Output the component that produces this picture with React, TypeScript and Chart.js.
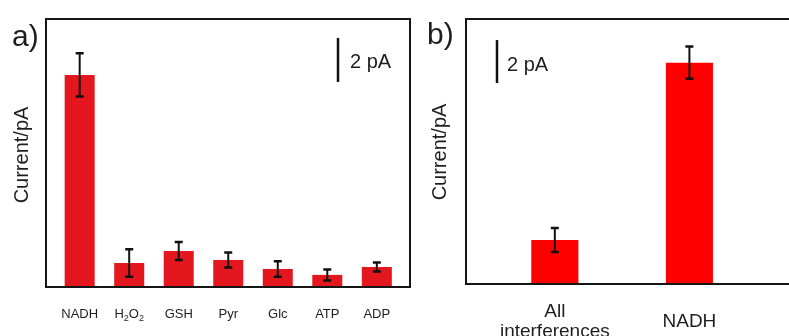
import React, { useEffect, useRef } from "react";
import { Chart, registerables } from "chart.js";
Chart.register(...registerables);

// ---- data ----
const catsA = ["NADH", "H2O2", "GSH", "Pyr", "Glc", "ATP", "ADP"];
const valsA = [9.64, 1.09, 1.64, 1.23, 0.82, 0.55, 0.91];
const errsA = [0.98, 0.62, 0.41, 0.34, 0.35, 0.25, 0.2];

const catsB = [["All", "interferences"], ["NADH"]];
const valsB = [2.05, 10.3];
const errsB = [0.56, 0.75];

const yTitle = "Current/pA";
const scaleBarLabel = "2 pA";
const scaleBarSize = 2;

const FONT = "'Liberation Sans', Arial, Helvetica, sans-serif";
const TXT = "#1e1e1e";

type PanelCfg = {
  label: string;
  labelX: number;
  labelBase: number;
  titleX: number;
  titleY: number;
  barX: number;
  barBase: number;
  textX: number;
  textBase: number;
  drawRight: boolean;
  tickFont: number;
  tickBase: number[];
  lineGap: number;
};

function drawSubLabel(ctx: CanvasRenderingContext2D, text: string, cx: number, base: number, size: number) {
  const parts: { t: string; sub: boolean }[] = [];
  for (const ch of text) {
    const sub = /[0-9]/.test(ch);
    const last = parts[parts.length - 1];
    if (last && last.sub === sub) last.t += ch;
    else parts.push({ t: ch, sub });
  }
  const subSize = Math.round(size * 0.68);
  let w = 0;
  for (const p of parts) {
    ctx.font = `${p.sub ? subSize : size}px ${FONT}`;
    w += ctx.measureText(p.t).width;
  }
  let x = cx - w / 2;
  ctx.textAlign = "left";
  for (const p of parts) {
    ctx.font = `${p.sub ? subSize : size}px ${FONT}`;
    ctx.fillText(p.t, x, p.sub ? base + 3 : base);
    x += ctx.measureText(p.t).width;
  }
}

function makePlugin(cfg: PanelCfg, errs: number[], cats: (string | string[])[]) {
  return {
    id: "panelDecor" + cfg.label,
    afterDatasetsDraw(chart: any) {
      const ctx: CanvasRenderingContext2D = chart.ctx;
      const { left, right, top, bottom } = chart.chartArea;
      const xs = chart.scales.x;
      const ys = chart.scales.y;
      const meta = chart.getDatasetMeta(0);
      const data = chart.data.datasets[0].data as { x: number; y: number }[];
      ctx.save();
      ctx.strokeStyle = "#111";
      meta.data.forEach((el: any, i: number) => {
        const v = data[i].y;
        const yHi = ys.getPixelForValue(v + errs[i]);
        const yLo = ys.getPixelForValue(v - errs[i]);
        const x = el.x;
        ctx.lineWidth = 2;
        ctx.beginPath();
        ctx.moveTo(x, yHi);
        ctx.lineTo(x, yLo);
        ctx.stroke();
        ctx.lineWidth = 2.5;
        ctx.beginPath();
        ctx.moveTo(x - 4, yHi);
        ctx.lineTo(x + 4, yHi);
        ctx.moveTo(x - 4, yLo);
        ctx.lineTo(x + 4, yLo);
        ctx.stroke();
      });
      ctx.strokeStyle = "#151515";
      ctx.lineWidth = 2;
      ctx.beginPath();
      if (cfg.drawRight) {
        ctx.rect(left, top, right - left, bottom - top);
      } else {
        ctx.moveTo(right + 2, top);
        ctx.lineTo(left, top);
        ctx.lineTo(left, bottom);
        ctx.lineTo(right + 2, bottom);
      }
      ctx.stroke();
      const sb0 = ys.getPixelForValue(cfg.barBase);
      const sb1 = ys.getPixelForValue(cfg.barBase + scaleBarSize);
      ctx.strokeStyle = "#111";
      ctx.lineWidth = 2.5;
      ctx.beginPath();
      ctx.moveTo(cfg.barX, sb0);
      ctx.lineTo(cfg.barX, sb1);
      ctx.stroke();
      ctx.fillStyle = TXT;
      ctx.font = `20px ${FONT}`;
      ctx.textAlign = "left";
      ctx.textBaseline = "alphabetic";
      ctx.fillText(scaleBarLabel, cfg.textX, cfg.textBase);
      ctx.font = `30px ${FONT}`;
      ctx.fillText(cfg.label, cfg.labelX, cfg.labelBase);
      ctx.save();
      ctx.translate(cfg.titleX, cfg.titleY);
      ctx.rotate(-Math.PI / 2);
      ctx.textAlign = "center";
      ctx.textBaseline = "middle";
      ctx.font = `20px ${FONT}`;
      ctx.fillText(yTitle, 0, 0);
      ctx.restore();
      ctx.textBaseline = "alphabetic";
      cats.forEach((c, i) => {
        const cx = xs.getPixelForValue(i);
        const lines = Array.isArray(c) ? c : [c];
        const base = cfg.tickBase[lines.length - 1];
        lines.forEach((ln, j) => {
          drawSubLabel(ctx, ln, cx, base + j * cfg.lineGap, cfg.tickFont);
        });
      });
      ctx.restore();
    },
  };
}

function buildChart(
  canvas: HTMLCanvasElement,
  vals: number[],
  errs: number[],
  cats: (string | string[])[],
  color: string,
  xMin: number,
  xMax: number,
  yMax: number,
  barPct: number,
  padding: { left: number; right: number; top: number; bottom: number },
  cfg: PanelCfg
) {
  return new Chart(canvas, {
    type: "bar",
    data: {
      datasets: [
        {
          data: vals.map((v, i) => ({ x: i, y: v })),
          backgroundColor: color,
          borderWidth: 0,
          barPercentage: barPct,
          categoryPercentage: 1,
        },
      ],
    },
    options: {
      animation: false,
      responsive: false,
      events: [],
      layout: { padding },
      plugins: { legend: { display: false }, tooltip: { enabled: false } },
      scales: {
        x: {
          type: "linear",
          display: false,
          offset: false,
          grid: { offset: false },
          min: xMin,
          max: xMax,
          afterBuildTicks: (s: any) => {
            s.ticks = cats.map((_, i) => ({ value: i }));
          },
        },
        y: { type: "linear", display: false, min: 0, max: yMax },
      },
    },
    plugins: [makePlugin(cfg, errs, cats)],
  } as any);
}

export default function App() {
  const refA = useRef<HTMLCanvasElement>(null);
  const refB = useRef<HTMLCanvasElement>(null);
  useEffect(() => {
    document.body.style.margin = "0";
    document.body.style.background = "#fff";
    const a = buildChart(
      refA.current!, valsA, errsA, catsA, "#e3171d", -0.68, 6.67, 12.18, 0.606,
      { left: 46, right: 10, top: 19, bottom: 49 },
      {
        label: "a)", labelX: 12, labelBase: 46, titleX: 22, titleY: 155,
        barX: 338, barBase: 9.32, textX: 350, textBase: 68, drawRight: true,
        tickFont: 13, tickBase: [318, 318], lineGap: 16,
      }
    );
    const b = buildChart(
      refB.current!, valsB, errsB, catsB, "#ff0000", -0.66, 1.74, 12.33, 0.35,
      { left: 46, right: 0, top: 19, bottom: 52 },
      {
        label: "b)", labelX: 7, labelBase: 44, titleX: 20, titleY: 152,
        barX: 77, barBase: 9.35, textX: 87, textBase: 71, drawRight: false,
        tickFont: 19, tickBase: [327, 317], lineGap: 20,
      }
    );
    return () => {
      a.destroy();
      b.destroy();
    };
  }, []);
  return (
    <div style={{ position: "relative", width: 789, height: 336, overflow: "hidden", background: "#fff" }}>
      <canvas ref={refA} width={420} height={336} style={{ position: "absolute", left: 0, top: 0 }} />
      <canvas ref={refB} width={369} height={336} style={{ position: "absolute", left: 420, top: 0 }} />
    </div>
  );
}
